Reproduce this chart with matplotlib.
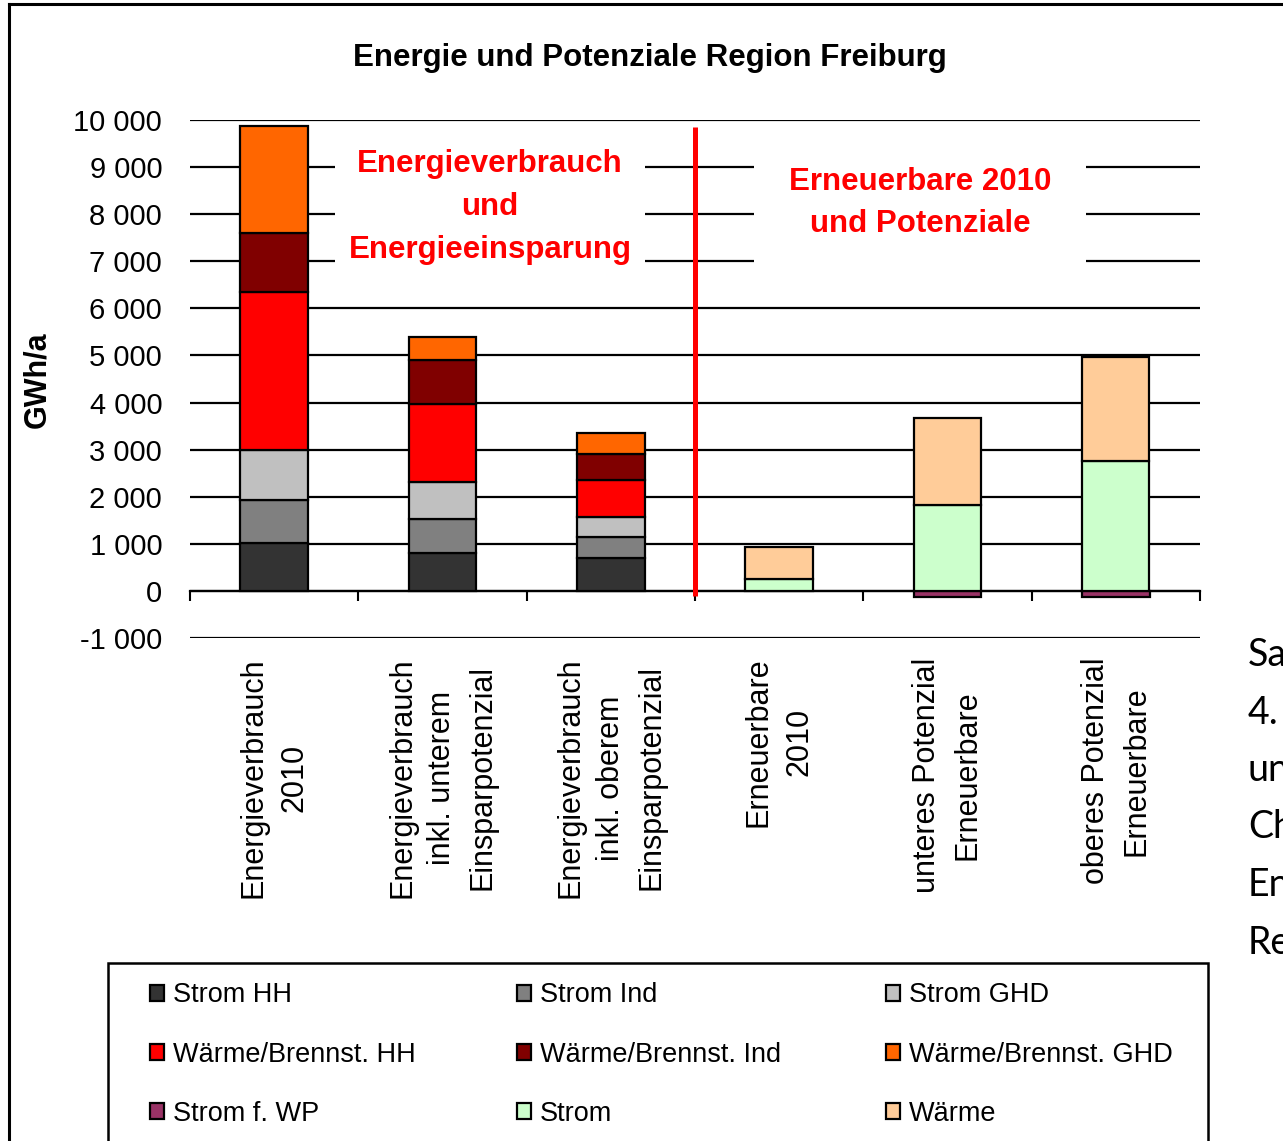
import numpy as np
import matplotlib
matplotlib.use("Agg")
import matplotlib.pyplot as plt
from matplotlib.lines import Line2D
from matplotlib.patches import Rectangle
from matplotlib.ticker import FuncFormatter, FixedLocator

plt.rcParams['font.family'] = ['Liberation Sans', 'DejaVu Sans']

# ---------------- data ----------------
categories = [
    "Energieverbrauch\n2010",
    "Energieverbrauch\ninkl. unterem\nEinsparpotenzial",
    "Energieverbrauch\ninkl. oberem\nEinsparpotenzial",
    "Erneuerbare\n2010",
    "unteres Potenzial\nErneuerbare",
    "oberes Potenzial\nErneuerbare",
]
strom_hh   = [1025, 800, 708, 0, 0, 0]
strom_ind  = [907, 722, 445, 0, 0, 0]
strom_ghd  = [1062, 799, 411, 0, 0, 0]
waerme_hh  = [3348, 1649, 793, 0, 0, 0]
waerme_ind = [1265, 944, 545, 0, 0, 0]
waerme_ghd = [2272, 473, 446, 0, 0, 0]
strom_wp   = [0, 0, 0, 0, -130, -130]
strom_ee   = [0, 0, 0, 262, 1833, 2767]
waerme_ee  = [0, 0, 0, 672, 1833, 2193]

series_names = ["Strom HH", "Strom Ind", "Strom GHD",
                "Wärme/Brennst. HH", "Wärme/Brennst. Ind", "Wärme/Brennst. GHD",
                "Strom f. WP", "Strom", "Wärme"]
series_vals = [strom_hh, strom_ind, strom_ghd, waerme_hh, waerme_ind, waerme_ghd,
               strom_wp, strom_ee, waerme_ee]
series_colors = ["#333333", "#808080", "#C0C0C0", "#FF0000", "#800000", "#FF6600",
                 "#993366", "#CCFFCC", "#FFCC99"]

yticks = list(range(-1000, 10001, 1000))

# ---------------- figure ----------------
W, H = 1283, 1141
fig = plt.figure(figsize=(W / 100, H / 100), dpi=100)
fig.patch.set_facecolor("white")

ax = fig.add_axes([190 / W, (H - 638) / H, 1010 / W, 518 / H])
ax.set_xlim(-0.5, len(categories) - 0.5)
ax.set_ylim(-1000, 10000)

x = np.arange(len(categories))
pos_bottom = np.zeros(len(categories))
neg_bottom = np.zeros(len(categories))
handles = []
for name, vals, col in zip(series_names, series_vals, series_colors):
    vals = np.array(vals, dtype=float)
    mask = vals != 0
    bottoms = np.where(vals >= 0, pos_bottom, neg_bottom)
    h = ax.bar(x[mask], vals[mask], bottom=bottoms[mask], width=0.4,
               color=col, edgecolor="black", linewidth=1.6, label=name, zorder=3)
    handles.append(h)
    pos_bottom += np.where(vals > 0, vals, 0)
    neg_bottom += np.where(vals < 0, vals, 0)

# grid / axes styling
ax.set_yticks(yticks)
ax.yaxis.set_major_formatter(FuncFormatter(lambda v, p: f"{int(v):,}".replace(",", " ")))
ax.yaxis.grid(True, color="black", linewidth=1.6)
ax.set_axisbelow(True)
for s in ["left", "right", "top"]:
    ax.spines[s].set_visible(False)
ax.spines["bottom"].set_position(("data", 0))
ax.spines["bottom"].set_linewidth(1.6)
ax.tick_params(axis="y", length=0, pad=20, labelsize=21)

ax.set_xticks(x)
ax.set_xticklabels(categories, rotation=90, fontsize=22, linespacing=1.45)
for lbl in ax.get_xticklabels():
    lbl.set_multialignment("center")
ax.tick_params(axis="x", which="major", length=0, pad=48)
ax.xaxis.set_minor_locator(FixedLocator(np.arange(-0.5, len(categories), 1.0)))
ax.tick_params(axis="x", which="minor", length=7, width=1.5, direction="out")

# separator
ax.plot([2.5, 2.5], [9850, -100], color="#FF0000", linewidth=3.6, zorder=4,
        solid_capstyle="butt")

# annotation boxes
ax.text(1.282, 8150, "Energieverbrauch\nund\nEnergieeinsparung", color="#FF0000",
        fontsize=22.5, fontweight="bold", ha="center", va="center", linespacing=1.55,
        multialignment="center", zorder=5,
        bbox=dict(facecolor="white", edgecolor="none", pad=10))
ax.text(3.837, 8240, "Erneuerbare 2010\nund Potenziale", color="#FF0000",
        fontsize=22.5, fontweight="bold", ha="center", va="center", linespacing=1.55,
        multialignment="center", zorder=5,
        bbox=dict(facecolor="white", edgecolor="none", pad=25))

# title and y label
fig.text(650 / W, 1 - 58 / H, "Energie und Potenziale Region Freiburg",
         ha="center", va="center", fontsize=22.5, fontweight="bold")
fig.text(37 / W, 1 - 380 / H, "GWh/a", ha="center", va="center", rotation=90,
         fontsize=22, fontweight="bold")

# outer chart frame (extends beyond the right and bottom edges)
fig.add_artist(Line2D([9 / W, 9 / W], [1 - 4 / H, -0.05], color="black", linewidth=2.2,
                      transform=fig.transFigure))
fig.add_artist(Line2D([9 / W, 1.05], [1 - 4 / H, 1 - 4 / H], color="black", linewidth=2.2,
                      transform=fig.transFigure))

# legend frame
fig.add_artist(Rectangle((108 / W, -0.05), (1208 - 108) / W, (H - 963) / H + 0.05,
                         transform=fig.transFigure, facecolor="none",
                         edgecolor="black", linewidth=1.8))

# legend in three columns
cols = [[0, 3, 6], [1, 4, 7], [2, 5, 8]]
col_x = [150, 517, 886]
for cx, idxs in zip(col_x, cols):
    leg = fig.legend([handles[i] for i in idxs], [series_names[i] for i in idxs],
                     loc="center left", bbox_to_anchor=(cx / W, 1 - 1054.5 / H),
                     frameon=False, fontsize=19.5, handlelength=0.5, handleheight=0.5,
                     handletextpad=0.35, labelspacing=1.22, borderpad=0, borderaxespad=0)

# cut-off document text on the right
for i, t in enumerate(["Sa", "4.", "un", "Ch", "En", "Re"]):
    fig.text(1248 / W, 1 - (655 + i * 57.5) / H, t, ha="left", va="center",
             fontsize=27, family=["Lato", "DejaVu Sans"])

fig.savefig("out.png", dpi=100)
